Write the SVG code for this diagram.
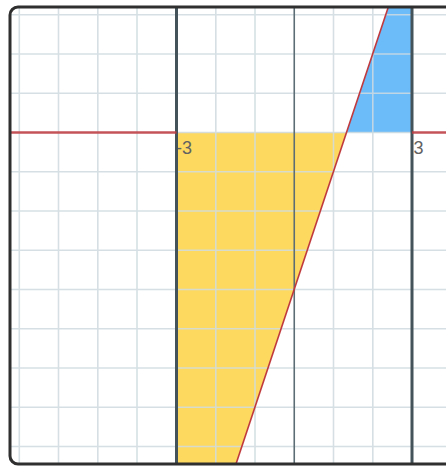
<svg xmlns="http://www.w3.org/2000/svg" width="446" height="466" viewBox="0 0 446 466">
  <defs>
    <style>
      .grid line { stroke: #cfdbe0; stroke-width: 1.6; }
      .axis { stroke: #44525a; stroke-width: 3; }
      .axis0 { stroke: #5d6d75; stroke-width: 1.6; }
      .red { stroke: #c0393d; fill: none; }
      .lbl { font-family: "Liberation Sans", Arial, sans-serif; font-size: 18px; fill: #626262; }
    </style>
    <clipPath id="frame">
      <rect x="10" y="7" width="450" height="457" rx="8"/>
    </clipPath>
  </defs>
  <rect width="446" height="466" fill="#ffffff"/>
  <g clip-path="url(#frame)">
    <g id="regions">
      <polygon id="yellow" points="176.5,132.5 346.6,132.5 235.4,466 176.5,466" fill="#fdd961"/>
      <polygon id="blue" points="346.6,132.5 412,132.5 412,5 389,5" fill="#6dbdfa"/>
    </g>
    <g class="grid" id="grid" opacity="0.85">
      <line x1="19.3" y1="0" x2="19.3" y2="466"/>
      <line x1="58.5" y1="0" x2="58.5" y2="466"/>
      <line x1="97.8" y1="0" x2="97.8" y2="466"/>
      <line x1="137" y1="0" x2="137" y2="466"/>
      <line x1="215.8" y1="0" x2="215.8" y2="466"/>
      <line x1="255" y1="0" x2="255" y2="466"/>
      <line x1="333.5" y1="0" x2="333.5" y2="466"/>
      <line x1="372.8" y1="0" x2="372.8" y2="466"/>
      <line x1="0" y1="14.7" x2="446" y2="14.7"/>
      <line x1="0" y1="54" x2="446" y2="54"/>
      <line x1="0" y1="93.2" x2="446" y2="93.2"/>
      <line x1="0" y1="132.5" x2="446" y2="132.5"/>
      <line x1="0" y1="171.8" x2="446" y2="171.8"/>
      <line x1="0" y1="211" x2="446" y2="211"/>
      <line x1="0" y1="250.3" x2="446" y2="250.3"/>
      <line x1="0" y1="289.5" x2="446" y2="289.5"/>
      <line x1="0" y1="328.8" x2="446" y2="328.8"/>
      <line x1="0" y1="368" x2="446" y2="368"/>
      <line x1="0" y1="407.3" x2="446" y2="407.3"/>
      <line x1="0" y1="446.5" x2="446" y2="446.5"/>
    </g>
    <g id="labels">
      <text class="lbl" x="176" y="153.5">-3</text>
      <text class="lbl" x="413.5" y="153.5">3</text>
    </g>
    <g id="axes">
      <line class="axis0" x1="294.25" y1="0" x2="294.25" y2="466"/>
      <line class="axis" x1="176.5" y1="0" x2="176.5" y2="466"/>
      <line class="axis" x1="412" y1="0" x2="412" y2="466"/>
    </g>
    <g id="connectors">
      <line class="red" x1="0" y1="132.5" x2="176.5" y2="132.5" stroke-width="2.4" stroke-opacity="0.85"/>
      <line class="red" x1="412" y1="132.5" x2="446" y2="132.5" stroke-width="2.4" stroke-opacity="0.85"/>
      <line class="red" x1="235" y1="467" x2="390" y2="2" stroke-width="1.6"/>
    </g>
  </g>
  <rect id="border" x="10" y="7" width="450" height="457" rx="8" fill="none" stroke="#2f2f2f" stroke-width="3"/>
</svg>
